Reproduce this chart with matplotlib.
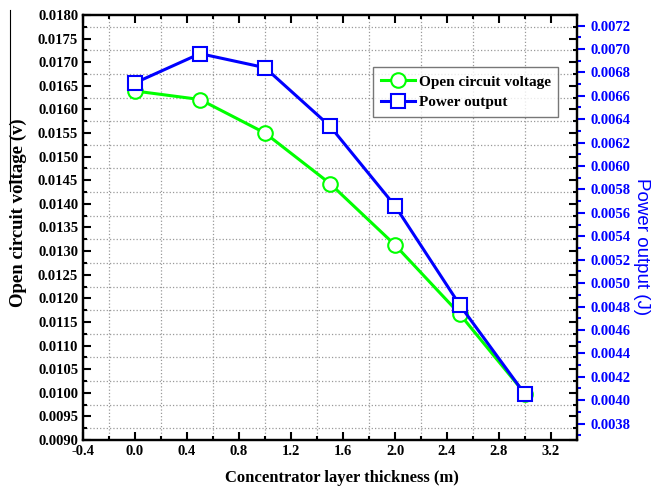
import numpy as np
import matplotlib
matplotlib.use('Agg')
import matplotlib.pyplot as plt
from matplotlib.ticker import MultipleLocator, FormatStrFormatter
from matplotlib.lines import Line2D

# data
thickness = [0.0, 0.5, 1.0, 1.5, 2.0, 2.5, 3.0]
voltage = [0.01639, 0.01621, 0.01550, 0.01443, 0.01313, 0.01166, 0.00998]
power = [0.00671, 0.00696, 0.00684, 0.00634, 0.00566, 0.00481, 0.00405]

serif = 'Liberation Serif'
green = '#00ff00'
blue = '#0000ff'

fig = plt.figure(figsize=(6.52, 4.91), dpi=100)
ax = fig.add_axes([0.1273, 0.1039, 0.7577, 0.8656])
ax2 = ax.twinx()

l1, = ax.plot(thickness, voltage, color=green, lw=2.2, marker='o', ms=10.5,
              mfc='white', mec=green, mew=1.5, label='Open circuit voltage')
l2, = ax2.plot(thickness, power, color=blue, lw=2.2, marker='s', ms=9.5,
               mfc='white', mec=blue, mew=1.5, label='Power output')

ax.set_xlim(-0.4, 3.4)
ax.set_ylim(0.0090, 0.0180)
ax2.set_ylim(0.00366, 0.00729)

ax.xaxis.set_major_locator(MultipleLocator(0.4))
ax.xaxis.set_minor_locator(MultipleLocator(0.2))
ax.yaxis.set_major_locator(MultipleLocator(0.0005))
ax.yaxis.set_minor_locator(MultipleLocator(0.00025))
ax.xaxis.set_major_formatter(FormatStrFormatter('%.1f'))
ax.yaxis.set_major_formatter(FormatStrFormatter('%.4f'))
ax2.yaxis.set_major_locator(MultipleLocator(0.0002))
ax2.yaxis.set_minor_locator(MultipleLocator(0.0001))
ax2.yaxis.set_major_formatter(FormatStrFormatter('%.4f'))

ax.grid(which='minor', ls=':', color='#999999', lw=0.9)
ax.tick_params(which='both', direction='in', top=True, right=True, width=1.5)
ax.tick_params(which='major', length=6)
ax.tick_params(which='minor', length=3)
ax2.tick_params(which='both', direction='out', colors=blue, width=1.5)
ax2.tick_params(which='major', length=6)
ax2.tick_params(which='minor', length=3)

for a in (ax, ax2):
    for s in a.spines.values():
        s.set_linewidth(1.6)
        s.set_color('black')

for lab in ax.get_xticklabels() + ax.get_yticklabels():
    lab.set_fontfamily(serif)
    lab.set_fontweight('bold')
    lab.set_fontsize(10.5)
for lab in ax2.get_yticklabels():
    lab.set_fontfamily(serif)
    lab.set_fontweight('bold')
    lab.set_fontsize(10.5)
    lab.set_color(blue)

ax.set_xlabel('Concentrator layer thickness (m)', fontfamily=serif,
              fontweight='bold', fontsize=12)
ax.set_ylabel('Open circuit voltage (v)', fontfamily=serif,
              fontweight='bold', fontsize=13.5)
ax2.set_ylabel('Power output (J)', fontfamily='Liberation Sans', fontsize=13.5,
               color=blue, rotation=270, va='center')
ax.xaxis.set_label_coords(0.524, -0.07)
ax.yaxis.set_label_coords(-0.113, 0.535)
ax2.yaxis.set_label_coords(1.13, 0.455)

leg = ax2.legend(handles=[l1, l2], loc='upper left',
                 bbox_to_anchor=(0.588, 0.877), frameon=True, fancybox=False,
                 prop={'family': serif, 'weight': 'bold', 'size': 11},
                 handlelength=2.2, borderpad=0.5, labelspacing=0.45,
                 handletextpad=0.25, borderaxespad=0)
leg.get_frame().set_edgecolor('#555555')
leg.get_frame().set_linewidth(1.0)

# stray vertical rule at the left edge of the original image
fig.add_artist(Line2D([0.016, 0.016], [0.98, 0.61], color='black', lw=0.8,
                      transform=fig.transFigure))

fig.savefig('out.png', dpi=100)
